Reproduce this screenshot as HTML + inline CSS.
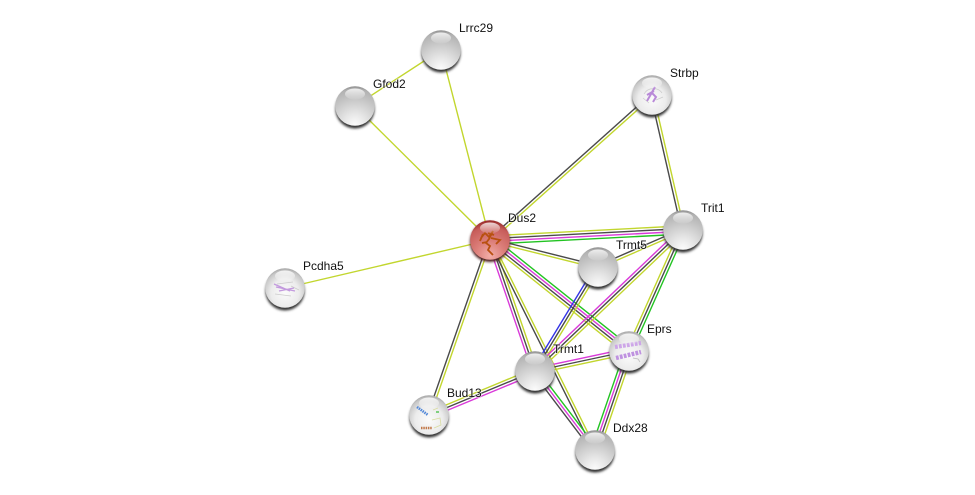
<!DOCTYPE html>
<html><head><meta charset="utf-8"><style>
html,body{margin:0;padding:0;background:#fff}
svg{display:block}
line{stroke-width:1.4}
.y{stroke:#c2d62e}.k{stroke:#4a4a4a}.m{stroke:#d93ad9}.g{stroke:#22c322}.b{stroke:#3333e6}
text{font:12px "Liberation Sans",sans-serif;fill:#111;paint-order:stroke;stroke:#fff;stroke-width:1.5px;stroke-opacity:.6}
</style></head><body>
<svg width="975" height="495" viewBox="0 0 975 495" xmlns="http://www.w3.org/2000/svg">
<defs>
<radialGradient id="grey" cx=".5" cy=".98" r=".98"><stop offset="0" stop-color="#fcfcfc"/><stop offset=".3" stop-color="#e6e6e6"/><stop offset=".7" stop-color="#c4c4c4"/><stop offset=".92" stop-color="#b2b2b2"/><stop offset="1" stop-color="#8c8c8c"/></radialGradient>
<radialGradient id="white" cx=".5" cy=".62" r=".64"><stop offset="0" stop-color="#fbfbfb"/><stop offset=".55" stop-color="#ececec"/><stop offset=".85" stop-color="#c8c8c8"/><stop offset="1" stop-color="#9a9a9a"/></radialGradient>
<radialGradient id="red" cx=".5" cy=".9" r=".92"><stop offset="0" stop-color="#f2aea8"/><stop offset=".4" stop-color="#dc7f7a"/><stop offset=".8" stop-color="#c75d5a"/><stop offset="1" stop-color="#8e2020"/></radialGradient>
<linearGradient id="hl" x1="0" y1="0" x2="0" y2="1"><stop offset="0" stop-color="#fff" stop-opacity=".8"/><stop offset="1" stop-color="#fff" stop-opacity=".08"/></linearGradient>
<filter id="blur" x="-30%" y="-30%" width="160%" height="160%"><feGaussianBlur stdDeviation="1.2"/></filter>
<g id="base"><circle cx="0" cy="3" r="19.5" fill="#333" filter="url(#blur)"/></g>
<g id="top"><ellipse cx="0" cy="-12" rx="10" ry="5.5" fill="url(#hl)"/></g>
</defs>

<line class="y" x1="490" y1="240" x2="441" y2="50"/>
<line class="y" x1="490" y1="240" x2="355" y2="106"/>
<line class="y" x1="355" y1="106" x2="441" y2="50"/>
<line class="y" x1="490" y1="240" x2="285" y2="288"/>

<!-- Dus2-Strbp -->
<line class="k" x1="489.08" y1="238.97" x2="651.08" y2="93.97"/>
<line class="y" x1="490.92" y1="241.03" x2="652.92" y2="96.03"/>
<!-- Strbp-Trit1 -->
<line class="k" x1="650.65" y1="95.31" x2="681.65" y2="230.31"/>
<line class="y" x1="653.35" y1="94.69" x2="684.35" y2="229.69"/>
<!-- Dus2-Trit1 -->
<line class="y" x1="490" y1="235.87" x2="683" y2="225.87"/>
<line class="k" x1="490" y1="238.62" x2="683" y2="228.62"/>
<line class="m" x1="490" y1="241.38" x2="683" y2="231.38"/>
<line class="g" x1="490" y1="244.13" x2="683" y2="234.13"/>
<!-- Dus2-Trmt5 -->
<line class="k" x1="490.33" y1="238.67" x2="598.33" y2="265.67"/>
<line class="y" x1="489.67" y1="241.33" x2="597.67" y2="268.33"/>
<!-- Trit1-Trmt5 -->
<line class="k" x1="682.45" y1="228.73" x2="597.45" y2="265.73"/>
<line class="y" x1="683.55" y1="231.27" x2="598.55" y2="268.27"/>
<!-- Dus2-Eprs -->
<line class="g" x1="492.58" y1="236.78" x2="631.58" y2="347.78"/>
<line class="m" x1="490.86" y1="238.92" x2="629.86" y2="349.92"/>
<line class="k" x1="489.14" y1="241.08" x2="628.14" y2="352.08"/>
<line class="y" x1="487.42" y1="243.22" x2="626.42" y2="354.22"/>
<!-- Dus2-Trmt1 -->
<line class="m" x1="487.4" y1="240.89" x2="532.4" y2="371.89"/>
<line class="k" x1="490" y1="240" x2="535" y2="371"/>
<line class="y" x1="492.6" y1="239.11" x2="537.6" y2="370.11"/>
<!-- Dus2-Ddx28 -->
<line class="k" x1="488.77" y1="240.62" x2="593.77" y2="450.62"/>
<line class="y" x1="491.23" y1="239.38" x2="596.23" y2="449.38"/>
<!-- Dus2-Bud13 -->
<line class="k" x1="488.7" y1="239.55" x2="427.7" y2="414.55"/>
<line class="y" x1="491.3" y1="240.45" x2="430.3" y2="415.45"/>
<!-- Trmt5-Trmt1 -->
<line class="b" x1="595.65" y1="265.58" x2="532.65" y2="369.58"/>
<line class="k" x1="598" y1="267" x2="535" y2="371"/>
<line class="y" x1="600.35" y1="268.42" x2="537.35" y2="372.42"/>
<!-- Trit1-Trmt1 -->
<line class="m" x1="681.1" y1="228.01" x2="533.1" y2="369.01"/>
<line class="k" x1="683" y1="230" x2="535" y2="371"/>
<line class="y" x1="684.9" y1="231.99" x2="536.9" y2="372.99"/>
<!-- Trit1-Eprs -->
<line class="y" x1="680.49" y1="228.88" x2="626.49" y2="349.88"/>
<line class="k" x1="683" y1="230" x2="629" y2="351"/>
<line class="g" x1="685.51" y1="231.12" x2="631.51" y2="352.12"/>
<!-- Trmt1-Eprs -->
<line class="m" x1="534.43" y1="368.31" x2="628.43" y2="348.31"/>
<line class="k" x1="535" y1="371" x2="629" y2="351"/>
<line class="y" x1="535.57" y1="373.69" x2="629.57" y2="353.69"/>
<!-- Trmt1-Bud13 -->
<line class="y" x1="533.95" y1="368.46" x2="427.95" y2="412.46"/>
<line class="k" x1="535" y1="371" x2="429" y2="415"/>
<line class="m" x1="536.05" y1="373.54" x2="430.05" y2="417.54"/>
<!-- Trmt1-Ddx28 -->
<line class="g" x1="537.19" y1="369.34" x2="597.19" y2="448.34"/>
<line class="m" x1="535" y1="371" x2="595" y2="450"/>
<line class="k" x1="532.81" y1="372.66" x2="592.81" y2="451.66"/>
<!-- Eprs-Ddx28 -->
<line class="g" x1="625.1" y1="349.66" x2="591.1" y2="448.66"/>
<line class="m" x1="627.7" y1="350.55" x2="593.7" y2="449.55"/>
<line class="k" x1="630.3" y1="351.45" x2="596.3" y2="450.45"/>
<line class="y" x1="632.9" y1="352.34" x2="598.9" y2="451.34"/>

<!-- nodes -->
<g transform="translate(441,50)"><use href="#base"/><circle r="19.8" fill="url(#grey)"/><use href="#top"/></g>
<g transform="translate(355,106)"><use href="#base"/><circle r="19.8" fill="url(#grey)"/><use href="#top"/></g>
<g transform="translate(683,230)"><use href="#base"/><circle r="19.8" fill="url(#grey)"/><use href="#top"/></g>
<g transform="translate(598,267)"><use href="#base"/><circle r="19.8" fill="url(#grey)"/><use href="#top"/></g>
<g transform="translate(535,371)"><use href="#base"/><circle r="19.8" fill="url(#grey)"/><use href="#top"/></g>
<g transform="translate(595,450)"><use href="#base"/><circle r="19.8" fill="url(#grey)"/><use href="#top"/></g>

<!-- Strbp -->
<g transform="translate(652,95)"><use href="#base"/><circle r="19.8" fill="url(#white)"/>
<path d="M-8,-1 C-4,-8 6,-8 10,-2 M-9,3 L-3,8 M4,5 L11,2" fill="none" stroke="#ccc" stroke-width=".7"/>
<path d="M3,-8 L-1,-1 L-5,6 M-1,-3 L4,2 L1,7 M-5,0 L2,-4" fill="none" stroke="#b98ad8" stroke-width="2"/><use href="#top"/></g>
<!-- Pcdha5 -->
<g transform="translate(285,288)"><use href="#base"/><circle r="19.8" fill="url(#white)"/>
<path d="M-8,-4 L8,-6 M6,-2 L14,2 M-10,6 L6,8" fill="none" stroke="#ccc" stroke-width=".7"/>
<path d="M-11,-4 L5,3 M-9,-1 L10,3 M-6,3 L9,0" fill="none" stroke="#c39ade" stroke-width="1.4"/><use href="#top"/></g>
<!-- Eprs -->
<g transform="translate(629,351)"><use href="#base"/><circle r="19.8" fill="url(#white)"/>
<path d="M-14,-4 L12,-8" fill="none" stroke="#cda6e8" stroke-width="4.2" stroke-dasharray="2.8 1.2"/>
<path d="M-13,7 L12,1" fill="none" stroke="#bf92e0" stroke-width="4.4" stroke-dasharray="2.8 1.2"/>
<path d="M4,7 L9,8 L11,11" fill="none" stroke="#bbb" stroke-width=".7"/><use href="#top"/></g>
<!-- Bud13 -->
<g transform="translate(429,415)"><use href="#base"/><circle r="19.8" fill="url(#white)"/>
<path d="M-12,-8 L-1,0" fill="none" stroke="#4f86d8" stroke-width="2.6" stroke-dasharray="1.5 .8"/>
<path d="M-8,13 L3,13" fill="none" stroke="#c2794a" stroke-width="2.6" stroke-dasharray="1.5 .8"/>
<path d="M4,-5 L9,-7 M3,5 L11,3 L12,10 L5,13" fill="none" stroke="#d8dca0" stroke-width=".8"/>
<path d="M7,-3 L10,-3" stroke="#7fd07f" stroke-width="2"/><use href="#top"/></g>
<!-- Dus2 -->
<g transform="translate(490,240)"><circle cy="2" r="20" fill="#4a1c1c" filter="url(#blur)"/><circle r="19.8" fill="url(#red)"/>
<path d="M-9,-2 L-5,-7 L-1,-3 L3,-9 L-1,-1 L-4,3 L0,6 L-2,10 L3,15 M1,-2 L10,0 L6,4 M-7,-6 L-10,1 M-3,2 L-8,3 M-2,-7 L4,-5" fill="none" stroke="#b8500f" stroke-width="1.8"/>
<use href="#top"/></g>

<!-- labels -->
<text x="459" y="32">Lrrc29</text>
<text x="373" y="88">Gfod2</text>
<text x="670" y="77">Strbp</text>
<text x="508" y="222">Dus2</text>
<text x="701" y="212">Trit1</text>
<text x="616" y="249">Trmt5</text>
<text x="303" y="270">Pcdha5</text>
<text x="647" y="333">Eprs</text>
<text x="553" y="353">Trmt1</text>
<text x="447" y="397">Bud13</text>
<text x="613" y="432">Ddx28</text>
</svg>
</body></html>
